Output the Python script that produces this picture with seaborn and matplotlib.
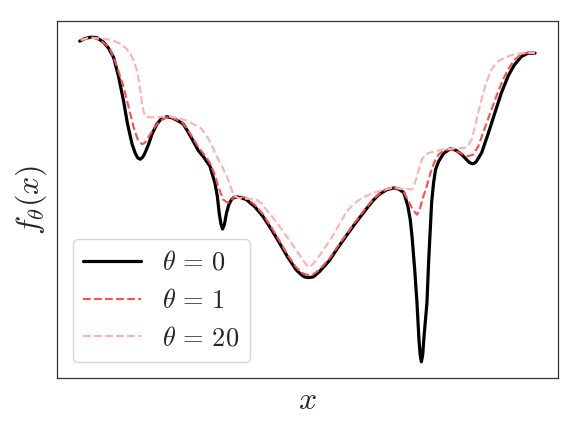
import numpy as np
import pandas as pd
import matplotlib
matplotlib.use("Agg")
import matplotlib.pyplot as plt
import seaborn as sns

# theta = 0 (original function)
x_theta0 = [-0.01, 0.04, 0.10, 0.16, 0.23, 0.28, 0.33, 0.38, 0.43, 0.47, 0.517, 0.55, 0.575, 0.60, 0.62, 0.64, 0.683,
            0.72, 0.767, 0.81, 0.867, 0.92, 0.98, 1.033, 1.10, 1.183, 1.24, 1.30, 1.35, 1.375, 1.393, 1.41,
            1.427, 1.445, 1.467, 1.49, 1.517, 1.54, 1.573, 1.61, 1.667, 1.75, 1.833, 1.92, 2.00, 2.08, 2.167,
            2.22, 2.25, 2.283, 2.31, 2.34, 2.40, 2.50, 2.58, 2.667, 2.76, 2.86, 2.94, 3.00, 3.08, 3.15, 3.20, 3.25,
            3.29, 3.315, 3.333, 3.36, 3.383, 3.403, 3.415, 3.427, 3.44, 3.455, 3.483, 3.50, 3.53, 3.55, 3.57,
            3.60, 3.65, 3.717, 3.77, 3.833, 3.88, 3.91, 3.94, 3.96, 3.98, 4.033, 4.10, 4.167, 4.23, 4.30, 4.36, 4.433,
            4.50, 4.57]
y_theta0 = [3.38, 3.405, 3.42, 3.415, 3.37, 3.31, 3.22, 3.03, 2.79, 2.56, 2.353, 2.26, 2.215, 2.203, 2.22, 2.25, 2.353,
            2.46, 2.553, 2.605, 2.627, 2.615, 2.585, 2.553, 2.44, 2.29, 2.22, 2.133, 1.967, 1.83, 1.667, 1.56,
            1.507, 1.55, 1.667, 1.75, 1.80, 1.82, 1.827, 1.82, 1.80, 1.73, 1.633, 1.50, 1.367, 1.23, 1.10,
            1.05, 1.03, 1.023, 1.024, 1.03, 1.08, 1.19, 1.31, 1.433, 1.56, 1.69, 1.79, 1.85, 1.90, 1.917, 1.905, 1.87,
            1.74, 1.60, 1.433, 1.10, 0.77, 0.40, 0.25, 0.183, 0.25, 0.45, 0.77, 1.18, 1.77, 1.97, 2.10,
            2.18, 2.26, 2.307, 2.295, 2.25, 2.20, 2.17, 2.157, 2.163, 2.18, 2.267, 2.46, 2.667, 2.86, 3.033, 3.14, 3.227,
            3.26, 3.26]

# theta = 1
x_theta1 = [0.00, 0.06, 0.12, 0.20, 0.25, 0.30, 0.36, 0.433, 0.48, 0.533, 0.57, 0.595, 0.617, 0.635, 0.655, 0.70, 0.75,
            0.80, 0.867, 0.92, 0.98, 1.03, 1.10, 1.18, 1.24, 1.30, 1.345, 1.383, 1.433, 1.483, 1.515, 1.55,
            1.60, 1.667, 1.75, 1.833, 1.92, 2.00, 2.08, 2.167, 2.22, 2.25, 2.283, 2.31, 2.34, 2.40, 2.50, 2.58, 2.667,
            2.76, 2.86, 2.94, 3.00, 3.08, 3.15, 3.21, 3.25, 3.30, 3.34, 3.383, 3.41, 3.44, 3.483, 3.52,
            3.56, 3.60, 3.65, 3.70, 3.76, 3.83, 3.90, 3.95, 4.00, 4.06, 4.133, 4.20, 4.25, 4.30, 4.36,
            4.433, 4.50, 4.57]
y_theta1 = [3.387, 3.41, 3.415, 3.387, 3.35, 3.29, 3.14, 2.92, 2.73, 2.52, 2.41, 2.37, 2.353, 2.36, 2.38, 2.453, 2.53,
            2.587, 2.62, 2.615, 2.59, 2.56, 2.46, 2.33, 2.25, 2.167, 2.06, 1.933, 1.80, 1.767, 1.795, 1.833,
            1.835, 1.815, 1.75, 1.655, 1.52, 1.39, 1.25, 1.125, 1.075, 1.058, 1.05, 1.05, 1.055, 1.10, 1.21, 1.325, 1.445,
            1.575, 1.705, 1.80, 1.855, 1.905, 1.92, 1.91, 1.875, 1.78, 1.70, 1.65, 1.70, 1.81, 1.94, 2.07,
            2.18, 2.25, 2.285, 2.30, 2.29, 2.26, 2.233, 2.25, 2.333, 2.50, 2.70, 2.88, 3.00, 3.10, 3.19,
            3.25, 3.265, 3.26]

# theta = 20
x_theta20 = [0.00, 0.10, 0.233, 0.32, 0.40, 0.46, 0.50, 0.535, 0.567, 0.595, 0.617, 0.635, 0.65, 0.70, 0.80,
             0.90, 0.98, 1.067, 1.13, 1.20, 1.26, 1.32, 1.367, 1.42, 1.46, 1.483, 1.51, 1.533, 1.56, 1.583,
             1.65, 1.71, 1.767, 1.82, 1.867, 1.93, 2.00, 2.08, 2.167, 2.22, 2.26, 2.293, 2.33, 2.38, 2.45,
             2.53, 2.60, 2.667, 2.74, 2.82, 2.90, 3.00, 3.08, 3.13, 3.20, 3.26, 3.30, 3.333, 3.36, 3.383,
             3.41, 3.433, 3.46, 3.50, 3.567, 3.65, 3.75, 3.82, 3.867, 3.90, 3.933, 3.97, 4.00, 4.033, 4.08,
             4.133, 4.20, 4.267, 4.35, 4.433, 4.50, 4.57]
y_theta20 = [3.393, 3.415, 3.403, 3.39, 3.353, 3.305, 3.253, 3.18, 3.087, 2.92, 2.753, 2.67, 2.627, 2.62, 2.625,
             2.627, 2.615, 2.587, 2.555, 2.52, 2.45, 2.34, 2.233, 2.135, 2.055, 2.00, 1.92, 1.867, 1.83, 1.817,
             1.81, 1.808, 1.80, 1.76, 1.70, 1.625, 1.533, 1.42, 1.30, 1.22, 1.16, 1.127, 1.15, 1.21, 1.31,
             1.43, 1.55, 1.67, 1.75, 1.81, 1.85, 1.885, 1.905, 1.917, 1.91, 1.905, 1.905, 1.90, 1.96, 2.033,
             2.13, 2.20, 2.24, 2.265, 2.283, 2.30, 2.31, 2.313, 2.317, 2.34, 2.40, 2.54, 2.67, 2.80, 2.97,
             3.10, 3.18, 3.217, 3.245, 3.26, 3.265, 3.26]

labels = [r"$\theta\,=\,0$", r"$\theta\,=\,1$", r"$\theta\,=\,20$"]

sns.set_theme(style="white")
plt.rcParams["mathtext.fontset"] = "cm"
plt.rcParams["font.family"] = ["DejaVu Sans"]

fig = plt.figure(figsize=(5.81, 4.36), dpi=100)
ax = fig.add_axes([0.098, 0.133, 0.862, 0.819])

series = [
    (x_theta0, y_theta0, labels[0], dict(color="black", lw=2.3, ls="-")),
    (x_theta1, y_theta1, labels[1], dict(color="#ff4d4d", lw=1.5, ls="--")),
    (x_theta20, y_theta20, labels[2], dict(color="#ffb0b0", lw=1.5, ls="--")),
]
for xs, ys, lab, st in series:
    df = pd.DataFrame({"x": xs, "y": ys})
    sns.lineplot(data=df, x="x", y="y", ax=ax, sort=False, estimator=None,
                 label=lab, color=st["color"], linewidth=st["lw"], linestyle=st["ls"])

ax.set_xticks([])
ax.set_yticks([])
ax.set_xlabel(r"$x$", fontsize=23, labelpad=5)
ax.set_ylabel(r"$f_\theta(x)$", fontsize=23, labelpad=6)
for s in ax.spines.values():
    s.set_edgecolor("#333333")
    s.set_linewidth(0.9)
ax.legend(loc="lower left", fontsize=19, frameon=True, handlelength=2.2,
          borderaxespad=0.6, labelspacing=0.45)

fig.savefig("out.png", dpi=100)
